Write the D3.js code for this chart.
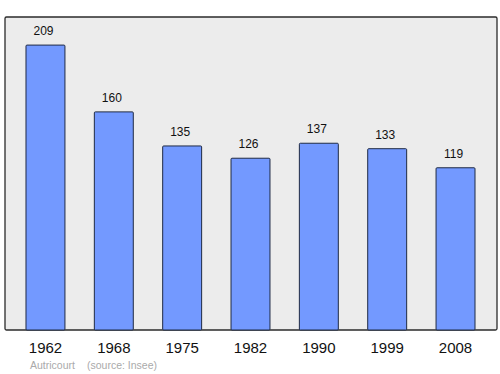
<!DOCTYPE html>
<html>
<head>
<meta charset="utf-8">
<script src="https://cdn.jsdelivr.net/npm/d3@7"></script>
<style>
body { margin: 0; background: #fff; }
svg text { font-family: "Liberation Sans", Arial, sans-serif; }
</style>
</head>
<body>
<svg id="canvas"></svg>
<script>
let years = ['1962', '1968', '1975', '1982', '1990', '1999', '2008'];
let population = [209, 160, 135, 126, 137, 133, 119];
let commune = 'Autricourt';
let source = '(source: Insee)';

let width = 500;
let height = 374;

let plotLeft = 5, plotRight = 497, plotTop = 17, plotBottom = 330;

let svg = d3.select('#canvas')
	.attr('width', width)
	.attr('height', height)

let xScale = d3.scaleBand()
	.domain(years)
	.range([11.3, 489.7])
	.paddingInner(0.43)
	.paddingOuter(0.215)

let yScale = d3.scaleLinear()
	.domain([0, 229.6])
	.range([plotBottom, plotTop])

// background frame
svg.append('rect')
	.attr('x', plotLeft)
	.attr('y', plotTop)
	.attr('width', plotRight - plotLeft)
	.attr('height', plotBottom - plotTop)
	.attr('rx', 1.5)
	.attr('fill', '#ececec')
	.attr('stroke', '#2b2b2b')
	.attr('stroke-width', 1.3)

let data = years.map((y, i) => ({ year: y, value: population[i] }))

svg.selectAll('rect.bar')
	.data(data)
	.enter()
	.append('rect')
	.attr('class', 'bar')
	.attr('x', d => xScale(d.year))
	.attr('y', d => yScale(d.value))
	.attr('width', xScale.bandwidth())
	.attr('height', d => plotBottom - yScale(d.value))
	.attr('rx', 1)
	.attr('fill', '#7399ff')
	.attr('stroke', '#1f2a44')
	.attr('stroke-width', 1)

svg.selectAll('text.val')
	.data(data)
	.enter()
	.append('text')
	.attr('class', 'val')
	.attr('x', d => xScale(d.year) + xScale.bandwidth() / 2 - 2)
	.attr('y', d => yScale(d.value) - 10)
	.attr('text-anchor', 'middle')
	.attr('font-size', 12)
	.attr('fill', '#111')
	.text(d => d.value)

// x axis labels
let xAxis = d3.axisBottom(xScale).tickSize(0)
let gx = svg.append('g')
	.attr('transform', `translate(0, ${plotBottom})`)
	.call(xAxis)
gx.select('.domain').remove()
gx.selectAll('text')
	.attr('y', 22.5)
	.attr('dy', null)
	.attr('font-size', 15)
	.attr('fill', '#111')
	.attr('font-family', '"Liberation Sans", Arial, sans-serif')

svg.append('text')
	.attr('x', 30)
	.attr('y', 369)
	.attr('font-size', 10.5)
	.attr('fill', '#aaa')
	.text(commune)

svg.append('text')
	.attr('x', 87)
	.attr('y', 369)
	.attr('font-size', 10.5)
	.attr('fill', '#aaa')
	.text(source)
</script>
</body>
</html>
